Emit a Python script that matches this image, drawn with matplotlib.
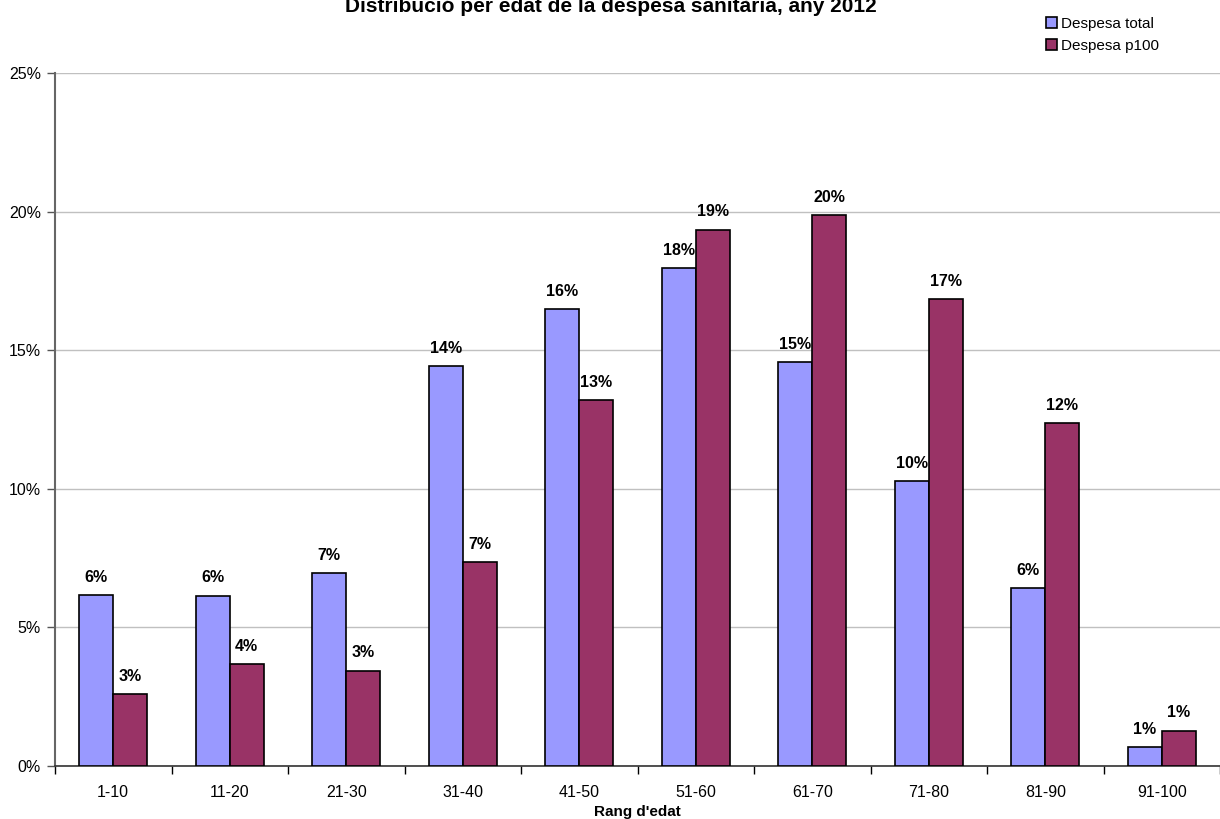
import numpy as np
import matplotlib
matplotlib.use('Agg')
import matplotlib.pyplot as plt
from matplotlib.ticker import FuncFormatter, FixedLocator

plt.rcParams['font.family'] = ['Liberation Sans', 'DejaVu Sans']

age_ranges = ['1-10', '11-20', '21-30', '31-40', '41-50', '51-60', '61-70', '71-80', '81-90', '91-100']
despesa_total = [6.17, 6.14, 6.95, 14.43, 16.48, 17.95, 14.56, 10.28, 6.42, 0.67]
despesa_p100 = [2.58, 3.67, 3.44, 7.36, 13.2, 19.35, 19.86, 16.84, 12.37, 1.28]

blue = '#9999FF'
red = '#993366'

fig = plt.figure(figsize=(12.2, 8.19), dpi=100)
ax = fig.add_axes([55 / 1220, 1 - 766 / 819, 1165 / 1220, 693 / 819])

x = np.arange(len(age_ranges))
w = 0.29
b1 = ax.bar(x - w / 2, despesa_total, w, color=blue, edgecolor='black', linewidth=1.2,
            label='Despesa total', zorder=3)
b2 = ax.bar(x + w / 2, despesa_p100, w, color=red, edgecolor='black', linewidth=1.2,
            label='Despesa p100', zorder=3)

# etiquetes de percentatge sobre cada barra
for bars, vals in ((b1, despesa_total), (b2, despesa_p100)):
    for rect, v in zip(bars, vals):
        ax.annotate(f'{v:.0f}%', (rect.get_x() + rect.get_width() / 2, v),
                    xytext=(0, 7.5), textcoords='offset points', ha='center', va='bottom',
                    fontsize=11.5, fontweight='bold')

ax.set_xlim(-0.5, len(age_ranges) - 0.5)
ax.set_ylim(0, 25)
ax.set_yticks(np.arange(0, 26, 5))
ax.yaxis.set_major_formatter(FuncFormatter(lambda v, p: f'{v:.0f}%'))
ax.yaxis.grid(True, color='#c0c0c0', linewidth=1, zorder=0)

ax.set_xticks(x)
ax.set_xticklabels(age_ranges)
ax.xaxis.set_minor_locator(FixedLocator(np.arange(-0.5, len(age_ranges), 1)))
ax.tick_params(axis='x', which='major', length=0, pad=14, labelsize=11.5)
ax.tick_params(axis='x', which='minor', length=6, width=1, color='black', direction='out')
ax.tick_params(axis='y', length=6, width=1, color='#555555', labelsize=11.5, pad=4)

for s in ('top', 'right'):
    ax.spines[s].set_visible(False)
ax.spines['left'].set_color('#666666')
ax.spines['left'].set_linewidth(1.5)
ax.spines['bottom'].set_color('#333333')
ax.spines['bottom'].set_linewidth(1.2)

ax.set_xlabel("Rang d'edat", fontsize=11, fontweight='bold', labelpad=3)

fig.text(611 / 1220, 1 - 6 / 819, 'Distribució per edat de la despesa sanitària, any 2012',
         ha='center', va='center', fontsize=15, fontweight='bold')

fig.legend(handles=[b1, b2], loc='upper left', bbox_to_anchor=(1040 / 1220, 1 - 11 / 819),
           frameon=False, fontsize=11, handlelength=0.7, handleheight=0.7,
           handletextpad=0.25, labelspacing=0.5, borderaxespad=0)

fig.savefig('out.png', dpi=100)
